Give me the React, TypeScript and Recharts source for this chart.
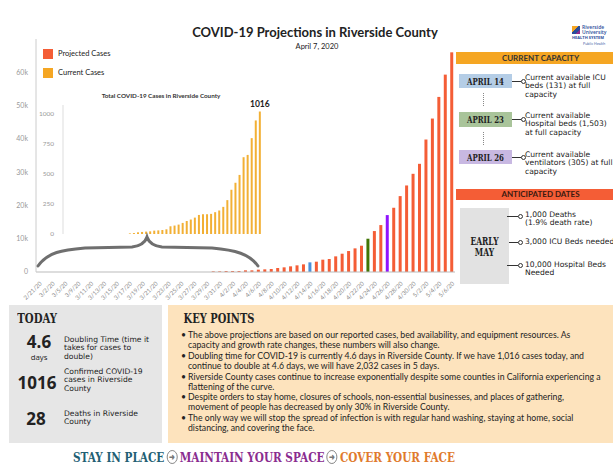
import React from 'react'
import { Bar, BarChart, Cell, LabelList, XAxis, YAxis } from 'recharts'

// main chart categories (irregular at the start, then daily)
const dates = [
  '2/21/20', '3/1/20', '3/2/20', '3/4/20', '3/5/20', '3/8/20',
  '3/9/20', '3/10/20', '3/11/20', '3/12/20', '3/13/20', '3/14/20', '3/15/20',
  '3/16/20', '3/17/20', '3/18/20', '3/19/20', '3/20/20', '3/21/20', '3/22/20',
  '3/23/20', '3/24/20', '3/25/20', '3/26/20', '3/27/20', '3/28/20', '3/29/20',
  '3/30/20', '3/31/20', '4/1/20', '4/2/20', '4/3/20', '4/4/20', '4/5/20',
  '4/6/20', '4/7/20', '4/8/20', '4/9/20', '4/10/20', '4/11/20', '4/12/20',
  '4/13/20', '4/14/20', '4/15/20', '4/16/20', '4/17/20', '4/18/20', '4/19/20',
  '4/20/20', '4/21/20', '4/22/20', '4/23/20', '4/24/20', '4/25/20', '4/26/20',
  '4/27/20', '4/28/20', '4/29/20', '4/30/20', '5/1/20', '5/2/20', '5/3/20',
  '5/4/20', '5/5/20', '5/6/20',
]

const projectedFrom = '3/30/20'
const projectedCases = [
  200, 200, 300, 300, 300, 500, 500, 700, 800, 900, 1200, 1400, 1700, 2000,
  2300, 2900, 3100, 3700, 3900, 4700, 5500, 6300, 7100, 7900, 10000, 12300,
  14100, 17100, 19300, 22800, 26000, 29500, 32500, 39800, 46100, 52600, 59300,
  66000,
]

const highlightColors: Record<string, string> = {
  '4/14/20': '#4a90d9',
  '4/23/20': '#417505',
  '4/26/20': '#9013fe',
}

const yTicks = [0, 10000, 20000, 30000, 40000, 50000, 60000]

// inset: total cases so far
const currentDates = [
  '2/19/20', '2/20/20', '2/21/20', '2/22/20', '2/23/20', '2/24/20', '2/25/20',
  '2/26/20', '2/27/20', '2/28/20', '2/29/20', '3/1/20', '3/2/20', '3/3/20',
  '3/4/20', '3/5/20', '3/6/20', '3/7/20', '3/8/20', '3/9/20', '3/10/20',
  '3/11/20', '3/12/20', '3/13/20', '3/14/20', '3/15/20', '3/16/20', '3/17/20',
  '3/18/20', '3/19/20', '3/20/20', '3/21/20', '3/22/20', '3/23/20', '3/24/20',
  '3/25/20', '3/26/20', '3/27/20', '3/28/20', '3/29/20', '3/30/20', '3/31/20',
  '4/1/20', '4/2/20', '4/3/20', '4/4/20', '4/5/20', '4/6/20', '4/7/20',
]
const currentFrom = '3/6/20'
const currentCases = [
  5, 8, 14, 17, 20, 22, 28, 30, 33, 39, 64, 70, 78, 92, 108, 120, 136, 158,
  164, 164, 167, 181, 195, 225, 281, 367, 425, 490, 637, 656, 795, 942, 1016,
]
const insetTicks = [0, 250, 500, 750, 1000]

const keyPoints = [
  [
    'The above projections are based on our reported cases, bed availability, and equipment resources. As',
    'capacity and growth rate changes, these numbers will also change.',
  ],
  [
    'Doubling time for COVID-19 is currently 4.6 days in Riverside County. If we have 1,016 cases today, and',
    'continue to double at 4.6 days, we will have 2,032 cases in 5 days.',
  ],
  [
    'Riverside County cases continue to increase exponentially despite some counties in California experiencing a',
    'flattening of the curve.',
  ],
  [
    'Despite orders to stay home, closures of schools, non-essential businesses, and places of gathering,',
    'movement of people has decreased by only 30% in Riverside County.',
  ],
  [
    'The only way we will stop the spread of infection is with regular hand washing, staying at home, social',
    'distancing, and covering the face.',
  ],
]

const RED = '#f45d36'
const GOLD = '#f5a623'
const SLAB = '"DejaVu Serif", serif'
const SANS = '"Open Sans", sans-serif'
const WIDE = '"DejaVu Sans", sans-serif'

const projStart = dates.indexOf(projectedFrom)
const mainData = dates.map((date, i) => ({
  date,
  projected: i >= projStart ? projectedCases[i - projStart] : null,
}))

const curStart = currentDates.indexOf(currentFrom)
const insetData = currentDates.map((date, i) => {
  const v = i >= curStart ? currentCases[i - curStart] : 0
  return { date, current: v, label: i === currentDates.length - 1 ? v : undefined }
})

function Abs({ x, y, children, style }: { x: number; y: number; children?: React.ReactNode; style?: React.CSSProperties }) {
  return <div style={{ position: 'absolute', left: x, top: y, ...style }}>{children}</div>
}

// condensed slab-serif look: bold serif squeezed horizontally
function Slab({ x, y, w, size, scale = 0.7, color = '#222', children }: { x: number; y: number; w: number; size: number; scale?: number; color?: string; children: React.ReactNode }) {
  return (
    <Abs x={x} y={y} style={{ width: w, textAlign: 'center', fontFamily: SLAB, fontWeight: 700, fontSize: size, color, lineHeight: 1.0, whiteSpace: 'nowrap', transform: `scaleX(${scale})`, transformOrigin: 'center' }}>
      {children}
    </Abs>
  )
}

function Lines({ x, y, lines, size = 7.6, lh = 8.3 }: { x: number; y: number; lines: string[]; size?: number; lh?: number }) {
  return (
    <Abs x={x} y={y} style={{ fontFamily: WIDE, fontSize: size, lineHeight: `${lh}px`, color: '#222', whiteSpace: 'nowrap' }}>
      {lines.map((l) => (
        <div key={l}>{l}</div>
      ))}
    </Abs>
  )
}

function Connector({ x1, x2, y }: { x1: number; x2: number; y: number }) {
  return (
    <>
      <Abs x={x1} y={y - 0.5} style={{ width: x2 - x1, height: 1, background: '#333' }} />
      <Abs x={x2} y={y - 2} style={{ width: 3, height: 3, borderRadius: 3, border: '0.8px solid #333', background: '#fff' }} />
    </>
  )
}

function Dots({ x, y }: { x: number; y: number }) {
  return <Abs x={x} y={y} style={{ width: 0, height: 13, borderLeft: '1.2px dotted #888' }} />
}

const arrowCircle: React.CSSProperties = {
  display: 'inline-block',
  width: 12,
  height: 12,
  borderRadius: 7,
  border: '1.4px solid #777',
  margin: '0 3px',
  fontSize: 8.5,
  lineHeight: '12px',
  textAlign: 'center',
  color: '#777',
  fontFamily: SANS,
}

export default function App() {
  return (
    <div style={{ position: 'absolute', left: 0, top: 0, width: 613, height: 466, background: '#fff', overflow: 'hidden', fontFamily: 'Lato, sans-serif', color: '#222' }}>
      {/* title */}
      <Abs x={0} y={24} style={{ width: 630, textAlign: 'center', fontSize: 13, fontWeight: 700, color: '#222' }}>
        COVID-19 Projections in Riverside County
      </Abs>
      <Abs x={0} y={42} style={{ width: 634, textAlign: 'center', fontSize: 7.5 }}>
        April 7, 2020
      </Abs>

      {/* logo */}
      <Abs x={572} y={26} style={{ width: 8, height: 8, background: 'linear-gradient(135deg,#f5a623 0 40%,#2a4d9b 40% 70%,#8e2c8f 70%)' }} />
      <Abs x={582} y={25} style={{ fontFamily: SANS, fontSize: 5, lineHeight: '5px', color: '#2a4d9b', fontWeight: 600 }}>
        <div>Riverside</div>
        <div>University</div>
      </Abs>
      <Abs x={572} y={36} style={{ fontFamily: SANS, fontSize: 4, lineHeight: '4px', color: '#2a4d9b', fontWeight: 700 }}>
        HEALTH SYSTEM
      </Abs>
      <Abs x={583} y={42} style={{ fontFamily: SANS, fontSize: 3.6, lineHeight: '4px', color: '#2a4d9b' }}>
        Public Health
      </Abs>

      {/* legend */}
      <Abs x={43} y={49} style={{ width: 10, height: 10, background: RED }} />
      <Abs x={58} y={49} style={{ fontSize: 7.5, lineHeight: '10px' }}>Projected Cases</Abs>
      <Abs x={43} y={68} style={{ width: 10, height: 10, background: GOLD }} />
      <Abs x={58} y={68} style={{ fontSize: 7.5, lineHeight: '10px' }}>Current Cases</Abs>

      {/* main projections chart */}
      <Abs x={0} y={0}>
        <BarChart width={460} height={310} data={mainData} margin={{ top: 39, right: 5, left: 0, bottom: 0 }} barCategoryGap="26%">
          <XAxis
            dataKey="date"
            interval={1}
            angle={-45}
            textAnchor="end"
            height={38}
            tickLine={false}
            tickMargin={3}
            axisLine={{ stroke: '#bbb' }}
            tick={{ fontSize: 6, fill: '#888' }}
          />
          <YAxis
            domain={[0, 70000]}
            ticks={yTicks}
            tickFormatter={(v: number) => (v === 0 ? '0' : `${v / 1000}k`)}
            width={36}
            tickSize={0}
            tickMargin={8}
            axisLine={{ stroke: '#ccc' }}
            tick={{ fontSize: 7, fill: '#999' }}
          />
          <Bar dataKey="projected" fill={RED} isAnimationActive={false}>
            {mainData.map((d) => (
              <Cell key={d.date} fill={highlightColors[d.date] ?? RED} />
            ))}
          </Bar>
        </BarChart>
      </Abs>

      {/* inset: current cases */}
      <Abs x={0} y={92} style={{ width: 322, textAlign: 'center', fontSize: 6.3, fontWeight: 700, color: '#333' }}>
        Total COVID-19 Cases in Riverside County
      </Abs>
      <Abs x={30} y={90}>
        <BarChart width={240} height={150} data={insetData} margin={{ top: 15, right: 8, left: 0, bottom: 6 }} barCategoryGap="22%">
          <XAxis dataKey="date" tick={false} tickLine={false} height={0} axisLine={{ stroke: '#ccc' }} />
          <YAxis
            domain={[0, 1070]}
            ticks={insetTicks}
            width={33}
            tickSize={0}
            tickMargin={9}
            axisLine={{ stroke: '#ddd' }}
            tick={{ fontSize: 6.5, fill: '#999' }}
          />
          <Bar dataKey="current" fill="#f2b035" isAnimationActive={false}>
            <LabelList dataKey="label" position="top" offset={5} style={{ fontSize: 8.5, fontWeight: 700, fill: '#222' }} />
          </Bar>
        </BarChart>
      </Abs>

      {/* brace */}
      <svg width={613} height={466} style={{ position: 'absolute', left: 0, top: 0, pointerEvents: 'none' }}>
        <path
          d="M38 266 C48 252 62 250 85 248 L132 247 C140 246 145 243 147 237 C149 243 154 246 162 247 L212 248 C235 250 250 254 258 266"
          fill="none"
          stroke="#6f6f6f"
          strokeWidth={3}
          strokeLinecap="round"
        />
      </svg>

      {/* current capacity */}
      <Abs x={456} y={52} style={{ width: 157, height: 12, background: GOLD, textAlign: 'center', fontSize: 8, fontWeight: 700, lineHeight: '12px', color: '#333' }}>
        <span style={{ marginLeft: 12 }}>CURRENT CAPACITY</span>
      </Abs>
      <Abs x={459} y={74} style={{ width: 53, height: 14, background: '#b4cde6' }} />
      <Slab x={459} y={76.5} w={53} size={10}>APRIL 14</Slab>
      <Connector x1={512} x2={521} y={81} />
      <Lines x={525} y={74} lines={['Current available ICU', 'beds (131) at full', 'capacity']} />
      <Dots x={483} y={93} />

      <Abs x={459} y={112} style={{ width: 53, height: 15, background: '#a9c49a' }} />
      <Slab x={459} y={115} w={53} size={10}>APRIL 23</Slab>
      <Connector x1={512} x2={521} y={119} />
      <Lines x={525} y={112} lines={['Current available', 'Hospital beds (1,503)', 'at full capacity']} />
      <Dots x={483} y={132} />

      <Abs x={459} y={150} style={{ width: 53, height: 14, background: '#c8b8e2' }} />
      <Slab x={459} y={152.5} w={53} size={10}>APRIL 26</Slab>
      <Connector x1={512} x2={521} y={157} />
      <Lines x={525} y={151} lines={['Current available', 'ventilators (305) at full', 'capacity']} />

      {/* anticipated dates */}
      <Abs x={456} y={189} style={{ width: 157, height: 11, background: RED, textAlign: 'center', fontSize: 8, fontWeight: 700, lineHeight: '11px', color: '#3a1a10' }}>
        <span style={{ marginLeft: 12 }}>ANTICIPATED DATES</span>
      </Abs>
      <Abs x={460} y={208} style={{ width: 49, height: 76, background: '#e2e2e2' }} />
      <Slab x={460} y={236} w={49} size={10.5} scale={0.72}>
        <div>EARLY</div>
        <div>MAY</div>
      </Slab>
      <Connector x1={507} x2={518} y={216} />
      <Connector x1={509} x2={518} y={242} />
      <Connector x1={507} x2={518} y={265} />
      <Lines x={525} y={211} lines={['1,000 Deaths', '(1.9% death rate)']} />
      <Lines x={525} y={238} lines={['3,000 ICU Beds needed']} />
      <Lines x={525} y={261} lines={['10,000 Hospital Beds', 'Needed']} />

      {/* today panel */}
      <Abs x={9} y={305} style={{ width: 153, height: 138, background: '#e6e6e6' }} />
      <Slab x={12} y={312} w={48} size={13} scale={0.78}>TODAY</Slab>
      <Abs x={22} y={332} style={{ width: 34, textAlign: 'center', fontFamily: SANS, fontWeight: 700, fontSize: 17, lineHeight: '20px' }}>4.6</Abs>
      <Abs x={22} y={353} style={{ width: 34, textAlign: 'center', fontFamily: SANS, fontSize: 7.8, lineHeight: '9px' }}>days</Abs>
      <Lines x={64} y={336} lines={['Doubling Time (time it', 'takes for cases to', 'double)']} />
      <Abs x={13} y={373} style={{ width: 48, textAlign: 'center', fontFamily: SANS, fontWeight: 700, fontSize: 17, lineHeight: '20px' }}>1016</Abs>
      <Lines x={64} y={368} lines={['Confirmed COVID-19', 'cases in Riverside', 'County']} />
      <Abs x={19} y={409} style={{ width: 34, textAlign: 'center', fontFamily: SANS, fontWeight: 700, fontSize: 17, lineHeight: '20px' }}>28</Abs>
      <Lines x={64} y={410} lines={['Deaths in Riverside', 'County']} />

      {/* key points */}
      <Abs x={168} y={305} style={{ width: 445, height: 138, background: '#fde3bd' }} />
      <Slab x={174} y={312} w={80} size={13} scale={0.76}>KEY POINTS</Slab>
      <Abs x={181} y={330} style={{ fontSize: 8.7, lineHeight: '9.9px', color: '#222', whiteSpace: 'nowrap' }}>
        {keyPoints.map((p) => (
          <div key={p[0]} style={{ display: 'flex', marginBottom: 1 }}>
            <div style={{ width: 7 }}>•</div>
            <div>
              {p.map((l) => (
                <div key={l}>{l}</div>
              ))}
            </div>
          </div>
        ))}
      </Abs>

      {/* footer */}
      <Abs x={73} y={449} style={{ display: 'flex', alignItems: 'center', fontFamily: SLAB, fontWeight: 700, fontSize: 13.5, lineHeight: '16px', whiteSpace: 'nowrap', transform: 'scaleX(0.775)', transformOrigin: 'left center' }}>
        <span style={{ color: '#1f5f74' }}>STAY IN PLACE</span>
        <span style={arrowCircle}>➜</span>
        <span style={{ color: '#8a2c8f' }}>MAINTAIN YOUR SPACE</span>
        <span style={arrowCircle}>➜</span>
        <span style={{ color: '#e07a2c' }}>COVER YOUR FACE</span>
      </Abs>
    </div>
  )
}
